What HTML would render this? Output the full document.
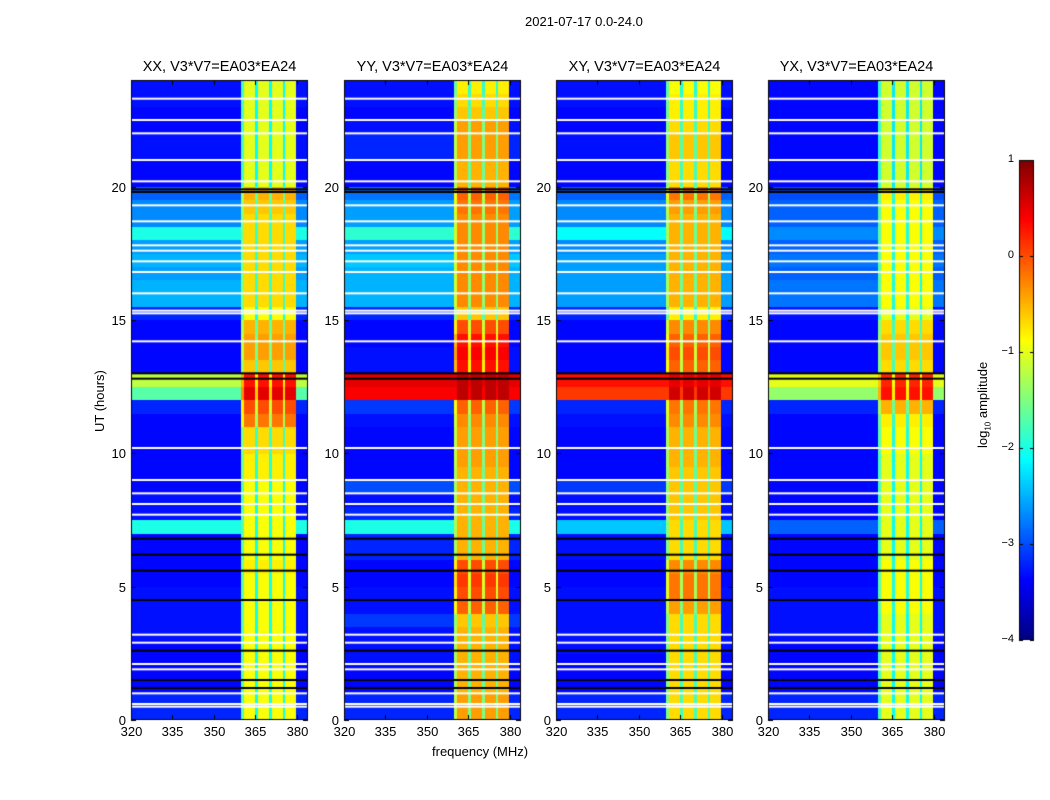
<!DOCTYPE html>
<html><head><meta charset="utf-8"><style>
body{margin:0;background:#fff;font-family:"Liberation Sans",sans-serif;}
#wrap{position:relative;width:1050px;height:800px;overflow:hidden;}
.t{position:absolute;white-space:nowrap;color:#000;}
canvas{position:absolute;left:0;top:0;}
</style></head><body>
<div id="wrap">
<canvas id="cv" width="1050" height="800"></canvas>
<div class="t" style="left:525px;top:14px;font-size:13px;">2021-07-17 0.0-24.0</div>
<div class="t" style="left:92px;top:432px;font-size:13px;transform:rotate(-90deg);transform-origin:0 0;">UT (hours)</div>
<div class="t" style="left:432px;top:744px;font-size:13px;">frequency (MHz)</div>
<div class="t" style="left:975px;top:448px;font-size:13px;transform:rotate(-90deg);transform-origin:0 0;">log<sub style="font-size:8px">10</sub> amplitude</div>
<div id="labels"></div>
</div>
<script>
const panelNames=["XX, V3*V7=EA03*EA24","YY, V3*V7=EA03*EA24","XY, V3*V7=EA03*EA24","YX, V3*V7=EA03*EA24"];
const xTicks=[320,335,350,365,380];
const yTicks=[0,5,10,15,20];
const cbTicks=[1,0,-1,-2,-3,-4];
// background level per 0.5 hr bin (index 0 = 0-0.5 h)
const bgXX=[-3.2,-3.2,-3.35,-3.35,-3.35,-3.35,-3.3,-3.3,-3.3,-3.3,-3.35,-3.35,-3.35,-3.35,-2.0,-3.3,-3.3,-3.35,-3.35,-3.35,-3.35,-3.35,-3.35,-3.2,-1.7,-1.2,-3.35,-3.35,-3.35,-3.35,-3.2,-2.5,-2.5,-2.6,-2.5,-2.6,-2.0,-2.7,-2.7,-2.9,-3.35,-3.35,-3.3,-3.3,-3.35,-3.35,-3.3,-3.3];
const bgYY=[-3.2,-3.2,-3.35,-3.35,-3.3,-3.3,-3.3,-3.1,-3.3,-3.3,-3.35,-3.35,-3.2,-3.2,-2.0,-3.2,-3.3,-3.0,-3.35,-3.35,-3.35,-3.35,-3.3,-3.1,0.4,0.5,-3.3,-3.3,-3.35,-3.35,-3.2,-2.5,-2.5,-2.5,-2.4,-2.6,-1.9,-2.6,-2.6,-2.8,-3.35,-3.35,-3.2,-3.2,-3.3,-3.35,-3.3,-3.3];
const bgXY=[-3.2,-3.2,-3.35,-3.35,-3.35,-3.3,-3.3,-3.3,-3.3,-3.3,-3.35,-3.35,-3.3,-3.3,-2.4,-3.3,-3.3,-3.1,-3.35,-3.35,-3.35,-3.35,-3.3,-3.2,0.1,0.3,-3.35,-3.35,-3.35,-3.35,-3.2,-2.6,-2.6,-2.6,-2.6,-2.7,-2.1,-2.7,-2.7,-2.9,-3.35,-3.35,-3.3,-3.3,-3.35,-3.35,-3.3,-3.3];
const bgYX=[-3.2,-3.2,-3.35,-3.35,-3.35,-3.35,-3.3,-3.3,-3.3,-3.3,-3.35,-3.35,-3.35,-3.35,-2.9,-3.35,-3.35,-3.35,-3.35,-3.35,-3.35,-3.35,-3.35,-3.2,-1.4,-1.0,-3.35,-3.35,-3.35,-3.35,-3.3,-2.8,-2.8,-2.9,-2.8,-2.9,-2.7,-2.9,-2.9,-3.0,-3.35,-3.35,-3.35,-3.35,-3.35,-3.35,-3.35,-3.35];
// RFI band level per 0.5 hr bin
const rfiXX=[-0.9,-0.9,-0.9,-0.9,-0.9,-0.9,-0.9,-0.9,-0.9,-0.9,-0.9,-0.8,-0.9,-0.9,-0.9,-0.9,-0.9,-0.9,-0.8,-0.8,-0.7,-0.7,-0.2,0.0,0.5,0.3,-0.6,-0.4,-0.4,-0.5,-0.9,-0.7,-0.7,-0.7,-0.7,-0.7,-0.7,-0.7,-0.6,-0.5,-1.0,-1.0,-1.0,-1.0,-1.0,-1.0,-1.0,-1.0];
const rfiYY=[-0.4,-0.4,-0.5,-0.5,-0.5,-0.5,-0.5,-0.6,-0.1,0.0,0.1,0.0,-0.5,-0.5,-0.5,-0.5,-0.5,-0.5,-0.5,-0.4,-0.4,-0.4,-0.3,-0.1,0.7,0.7,0.3,0.4,0.3,0.0,-0.6,-0.3,-0.3,-0.3,-0.3,-0.3,-0.3,-0.3,-0.2,-0.1,-0.5,-0.5,-0.4,-0.4,-0.4,-0.6,-0.7,-0.8];
const rfiXY=[-0.7,-0.7,-0.7,-0.7,-0.7,-0.7,-0.7,-0.7,-0.4,-0.2,-0.2,-0.3,-0.7,-0.7,-0.7,-0.6,-0.6,-0.6,-0.6,-0.5,-0.5,-0.5,-0.3,-0.2,0.6,0.5,-0.1,0.0,-0.1,-0.3,-0.8,-0.5,-0.5,-0.5,-0.5,-0.5,-0.5,-0.5,-0.4,-0.2,-0.7,-0.7,-0.6,-0.6,-0.7,-0.8,-0.8,-0.9];
const rfiYX=[-1.0,-1.0,-1.0,-1.0,-1.0,-1.0,-1.0,-1.0,-0.9,-0.9,-0.9,-0.9,-1.0,-1.0,-1.0,-1.0,-1.0,-1.0,-1.0,-1.0,-0.9,-0.9,-0.8,-0.5,0.3,0.2,-0.7,-0.6,-0.6,-0.7,-1.0,-0.9,-0.9,-0.9,-0.9,-0.9,-0.9,-0.9,-0.9,-0.8,-1.1,-1.1,-1.1,-1.1,-1.1,-1.1,-1.1,-1.1];
// band mask per 1 MHz column from 320 MHz (1 = RFI band, <1 = partial/gap, 0 = none)
const bandMask=[0,0,0,0,0,0,0,0,0,0,0,0,0,0,0,0,0,0,0,0,0,0,0,0,0,0,0,0,0,0,0,0,0,0,0,0,0,0,0,0,0.5,1,1,1,1,0.3,1,1,1,1,0.3,1,1,1,1,0.3,1,1,1,1,0,0,0,0];
// flagged (white) and strong (black) horizontal lines, hours
const flagTimes=[0.5,0.6,1.0,1.9,2.1,2.9,3.2,7.7,8.1,8.5,9.0,10.2,14.2,15.25,15.35,16.0,16.8,17.2,17.6,17.8,18.7,19.3,20.2,21.0,22.0,22.5,23.3];
const darkTimes=[1.2,1.5,2.6,4.5,5.6,6.2,6.8,12.8,13.0,19.8,19.9];
const bgs=[bgXX,bgYY,bgXY,bgYX], rfis=[rfiXX,rfiYY,rfiXY,rfiYX];
const panelX=[131,344,556,768], PW=177, PT=80, PH=640;
const fMin=320,fMax=384,tMax=24,vMin=-4,vMax=1;

function jet(v){let x=(v-vMin)/(vMax-vMin);x=Math.max(0,Math.min(1,x));
 const c=t=>Math.max(0,Math.min(1,1.5-Math.abs(4*x-t)));
 return `rgb(${Math.round(255*c(3))},${Math.round(255*c(2))},${Math.round(255*c(1))})`;}
const cv=document.getElementById('cv'),ctx=cv.getContext('2d');
const lab=document.getElementById('labels');
function txt(s,x,y,sz,name,align){const d=document.createElement('div');d.className='t';d.textContent=s;
 d.style.left=x+'px';d.style.top=y+'px';d.style.fontSize=sz+'px';
 if(align==='c')d.style.transform='translateX(-50%)';if(align==='r')d.style.transform='translateX(-100%)';
 
 
 lab.appendChild(d);}
for(let p=0;p<4;p++){
 const X0=panelX[p];
 const xs=f=>X0+(f-fMin)/(fMax-fMin)*PW, ys=t=>PT+PH-t/tMax*PH;
 const bg=bgs[p],rf=rfis[p];
 for(let i=0;i<bg.length;i++){const t0=i*0.5,t1=t0+0.5;
  for(let j=0;j<bandMask.length;j++){const f0=fMin+j;
   let v=bg[i];const m=bandMask[j];
   if(m>0){const r=rf[i]-(1-m)*1.6;v=Math.max(v,r);}
   ctx.fillStyle=jet(v);
   const x0=Math.floor(xs(f0)),x1=Math.ceil(xs(f0+1)),y0=Math.floor(ys(t1)),y1=Math.ceil(ys(t0));
   ctx.fillRect(x0,y0,x1-x0,y1-y0);}}
 ctx.fillStyle='#fff';flagTimes.forEach(t=>ctx.fillRect(X0,ys(t)-1,PW,2));
 ctx.fillStyle='#000';darkTimes.forEach(t=>ctx.fillRect(X0,ys(t)-1,PW,2));
 ctx.strokeStyle='#000';ctx.lineWidth=1;ctx.strokeRect(X0+0.5,PT+0.5,PW-1,PH-1);
 xTicks.forEach(f=>{const x=Math.round(xs(f))+0.5;ctx.beginPath();ctx.moveTo(x,PT+PH);ctx.lineTo(x,PT+PH-5);ctx.moveTo(x,PT);ctx.lineTo(x,PT+5);ctx.stroke();
  txt(String(f),x,724,13,'x-tick-label','c');});
 yTicks.forEach(t=>{const y=Math.round(ys(t))+0.5;ctx.beginPath();ctx.moveTo(X0,y);ctx.lineTo(X0+5,y);ctx.moveTo(X0+PW,y);ctx.lineTo(X0+PW-5,y);ctx.stroke();
  txt(String(t),X0-5,y-8,13,'y-tick-label','r');});
 txt(panelNames[p],X0+PW/2,59,14.5,'panel-title','c');
}
// colorbar
const CX=1019,CY=160,CW=15,CH=480;
for(let k=0;k<CH;k++){ctx.fillStyle=jet(vMax-(k+0.5)/CH*(vMax-vMin));ctx.fillRect(CX,CY+k,CW,1);}
ctx.strokeStyle='#000';ctx.strokeRect(CX+0.5,CY+0.5,CW-1,CH-1);
cbTicks.forEach(v=>{const y=Math.round(CY+(vMax-v)/(vMax-vMin)*CH)+0.5;
 ctx.beginPath();ctx.moveTo(CX,y);ctx.lineTo(CX+4,y);ctx.moveTo(CX+CW,y);ctx.lineTo(CX+CW-4,y);ctx.stroke();
 txt(v<0?'\u2212'+Math.abs(v):String(v),1014,y-8,11,'colorbar-tick-label','r');});
</script>
</body></html>
